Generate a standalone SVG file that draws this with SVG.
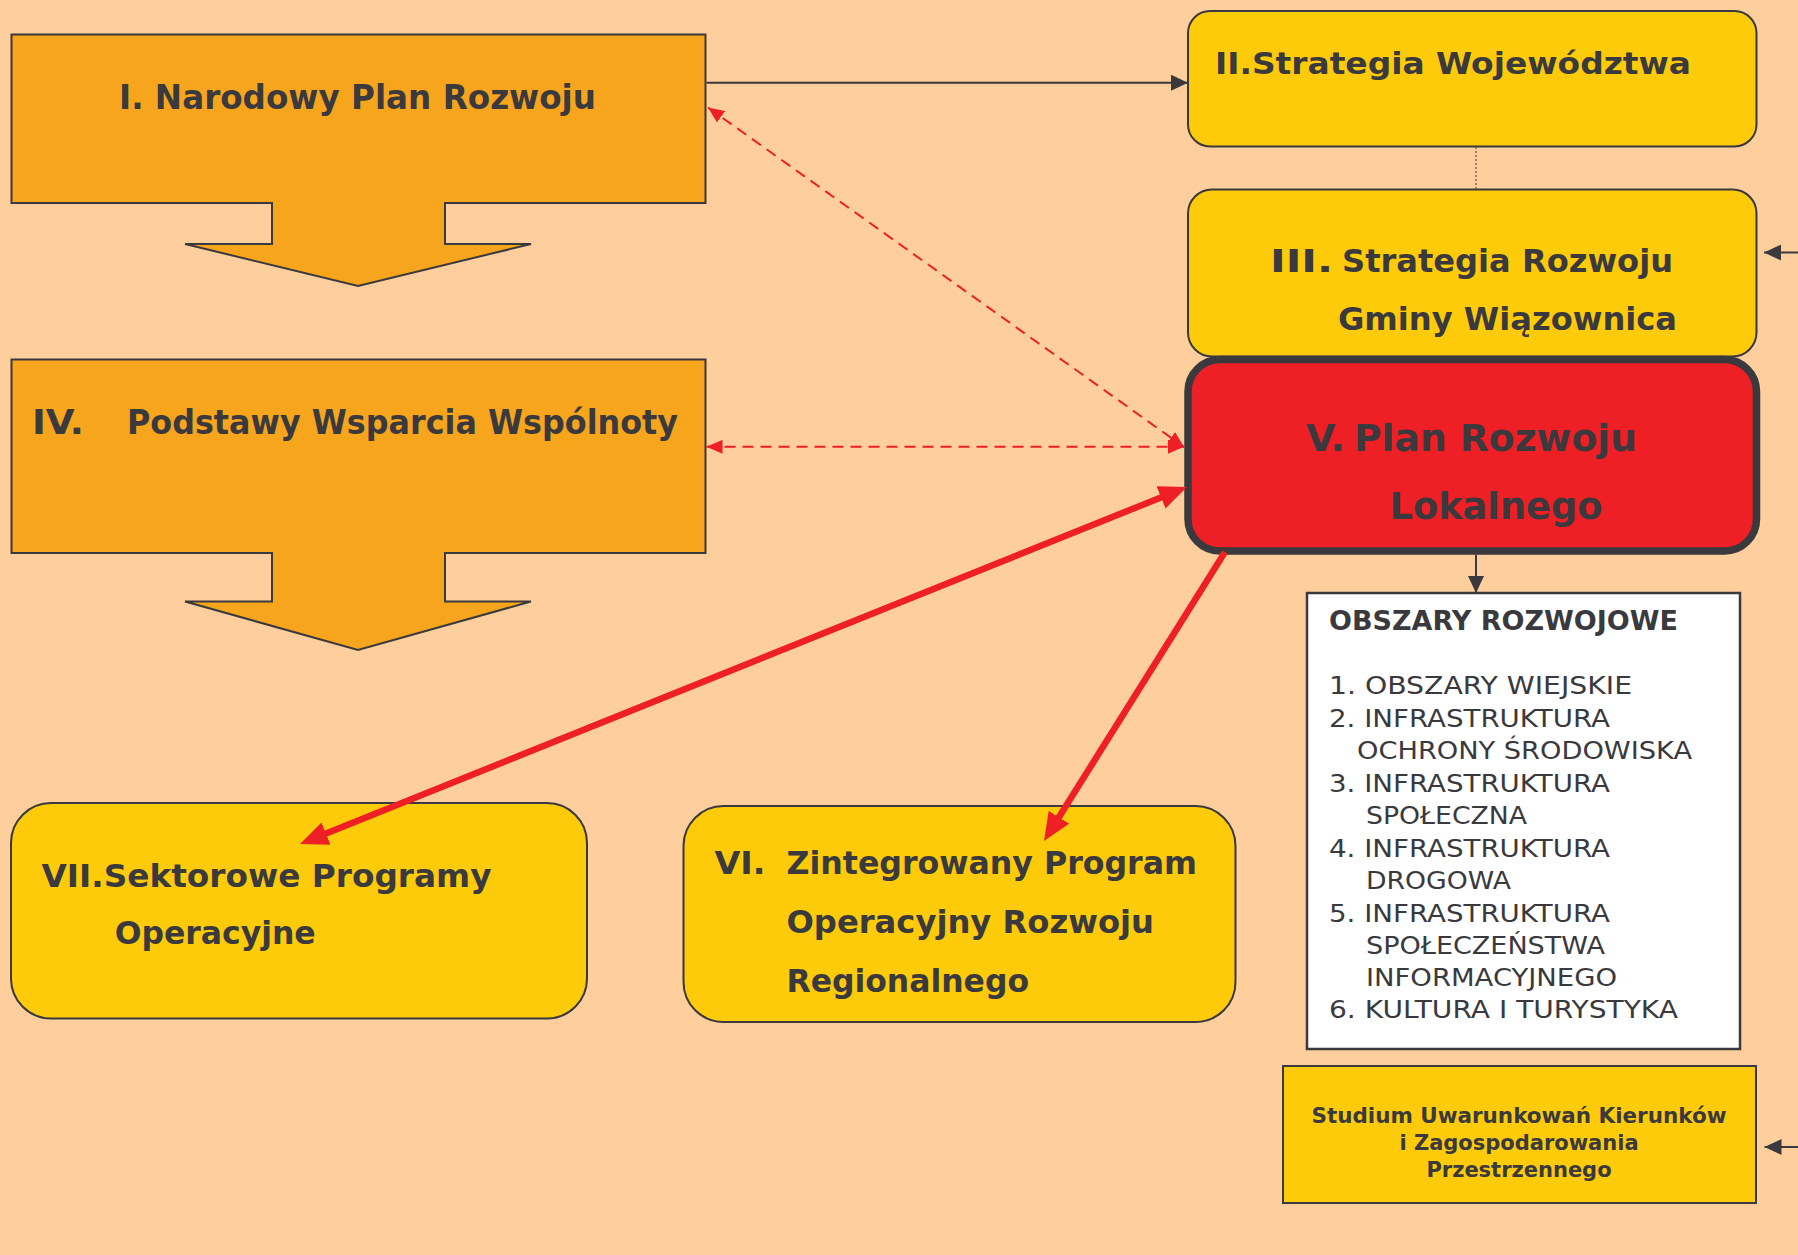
<svg xmlns="http://www.w3.org/2000/svg" width="1798" height="1255" viewBox="0 0 1798 1255">
<style>
.bg{fill:#FECF9C}
.orange{fill:#F7A51D;stroke:#3A393E;stroke-width:2}
.yellow{fill:#FDCB0A;stroke:#3A393E;stroke-width:2}
.white{fill:#FFFFFF;stroke:#3A393E;stroke-width:2.5}
.red{fill:#EE1F25;stroke:#3A393E;stroke-width:7.5}
.h{font-family:"DejaVu Sans","Liberation Sans",sans-serif;font-weight:bold;fill:#3A393E}
.t{font-family:"DejaVu Sans","Liberation Sans",sans-serif;fill:#3A393E;font-size:25px}
.dark{stroke:#3A393E;stroke-width:2;fill:none}
.dash{stroke:#EE1F25;stroke-width:2;fill:none;stroke-dasharray:11 7}
.thick{stroke:#EE1F25;stroke-width:6.5;fill:none}
.dot{stroke:#555;stroke-width:1.2;stroke-dasharray:2 2;fill:none}
</style>
<defs>
<marker id="mDark" markerUnits="userSpaceOnUse" markerWidth="17" markerHeight="16" refX="17" refY="8" orient="auto-start-reverse"><path d="M0,0 L17,8 L0,16 z" fill="#3A393E"/></marker>
<marker id="mDash" markerUnits="userSpaceOnUse" markerWidth="16" markerHeight="14" refX="16" refY="7" orient="auto-start-reverse"><path d="M0,0 L16,7 L0,14 z" fill="#EE1F25"/></marker>
<marker id="mThick" markerUnits="userSpaceOnUse" markerWidth="28" markerHeight="24" refX="18" refY="12" orient="auto-start-reverse"><path d="M0,0 L28,12 L0,24 z" fill="#EE1F25"/></marker>
</defs>
<rect class="bg" x="0" y="0" width="1798" height="1255"/>

<g id="node-I">
<path class="orange" d="M11.5,34.5 H705.5 V203 H445 V244 H531 L358,286 L185,244 H272 V203 H11.5 Z"/>
<text class="h" font-size="33" x="119" y="109" textLength="477" lengthAdjust="spacingAndGlyphs">I. Narodowy Plan Rozwoju</text>
</g>

<g id="node-IV">
<path class="orange" d="M11.5,359.5 H705.5 V553 H445 V601.5 H531 L358,650 L185,601.5 H272 V553 H11.5 Z"/>
<text class="h" font-size="33" x="32" y="434" textLength="52" lengthAdjust="spacingAndGlyphs">IV.</text>
<text class="h" font-size="33" x="127" y="434" textLength="551" lengthAdjust="spacingAndGlyphs">Podstawy Wsparcia Wspólnoty</text>
</g>

<g id="node-II">
<rect class="yellow" x="1188" y="11" width="568.5" height="135.5" rx="22" ry="22"/>
<text class="h" font-size="31" x="1215" y="74" textLength="476" lengthAdjust="spacingAndGlyphs">II.Strategia Województwa</text>
</g>

<g id="node-III">
<rect class="yellow" x="1188" y="189.5" width="568.5" height="167" rx="24" ry="24"/>
<text class="h" font-size="32" x="1270" y="271.5" textLength="63" lengthAdjust="spacingAndGlyphs">III.</text>
<text class="h" font-size="32" x="1342" y="271.5" textLength="331" lengthAdjust="spacingAndGlyphs">Strategia Rozwoju</text>
<text class="h" font-size="32" x="1338" y="330" textLength="339" lengthAdjust="spacingAndGlyphs">Gminy Wiązownica</text>
</g>

<g id="node-V">
<rect class="red" x="1188" y="359.5" width="568.5" height="191.5" rx="32" ry="32"/>
<text class="h" font-size="38" x="1306" y="451" textLength="39" lengthAdjust="spacingAndGlyphs">V.</text>
<text class="h" font-size="38" x="1354" y="451" textLength="283" lengthAdjust="spacingAndGlyphs">Plan Rozwoju</text>
<text class="h" font-size="38" x="1389.5" y="519" textLength="213" lengthAdjust="spacingAndGlyphs">Lokalnego</text>
</g>

<g id="node-obszary">
<rect class="white" x="1307" y="593" width="433" height="456"/>
<text class="h" font-size="26" x="1329" y="630" textLength="349" lengthAdjust="spacingAndGlyphs">OBSZARY ROZWOJOWE</text>
<text class="t" x="1329" y="694.3" textLength="303" lengthAdjust="spacingAndGlyphs">1. OBSZARY WIEJSKIE</text>
<text class="t" x="1329" y="727" textLength="281" lengthAdjust="spacingAndGlyphs">2. INFRASTRUKTURA</text>
<text class="t" x="1357" y="759.3" textLength="335" lengthAdjust="spacingAndGlyphs">OCHRONY ŚRODOWISKA</text>
<text class="t" x="1329" y="792" textLength="281" lengthAdjust="spacingAndGlyphs">3. INFRASTRUKTURA</text>
<text class="t" x="1366" y="824.3" textLength="161" lengthAdjust="spacingAndGlyphs">SPOŁECZNA</text>
<text class="t" x="1329" y="856.7" textLength="281" lengthAdjust="spacingAndGlyphs">4. INFRASTRUKTURA</text>
<text class="t" x="1366" y="889.3" textLength="145" lengthAdjust="spacingAndGlyphs">DROGOWA</text>
<text class="t" x="1329" y="921.7" textLength="281" lengthAdjust="spacingAndGlyphs">5. INFRASTRUKTURA</text>
<text class="t" x="1366" y="954" textLength="239" lengthAdjust="spacingAndGlyphs">SPOŁECZEŃSTWA</text>
<text class="t" x="1366" y="986" textLength="251" lengthAdjust="spacingAndGlyphs">INFORMACYJNEGO</text>
<text class="t" x="1329" y="1018.3" textLength="349" lengthAdjust="spacingAndGlyphs">6. KULTURA I TURYSTYKA</text>
</g>

<g id="node-studium">
<rect class="yellow" x="1283" y="1066" width="473" height="137" stroke-width="2.5"/>
<text class="h" font-size="21" x="1519" y="1123.3" text-anchor="middle" textLength="415" lengthAdjust="spacingAndGlyphs">Studium Uwarunkowań Kierunków</text>
<text class="h" font-size="21" x="1519" y="1150" text-anchor="middle">i Zagospodarowania</text>
<text class="h" font-size="21" x="1519" y="1176.5" text-anchor="middle">Przestrzennego</text>
</g>

<g id="node-VII">
<rect class="yellow" x="11" y="803" width="576" height="215.5" rx="40" ry="40"/>
<text class="h" font-size="32" x="41.5" y="886.7" textLength="450" lengthAdjust="spacingAndGlyphs">VII.Sektorowe Programy</text>
<text class="h" font-size="32" x="114.7" y="944" textLength="201" lengthAdjust="spacingAndGlyphs">Operacyjne</text>
</g>

<g id="node-VI">
<rect class="yellow" x="683.5" y="806" width="552" height="216" rx="40" ry="40"/>
<text class="h" font-size="32" x="714.4" y="874" textLength="51" lengthAdjust="spacingAndGlyphs">VI.</text>
<text class="h" font-size="32" x="786.5" y="874" textLength="410.5" lengthAdjust="spacingAndGlyphs">Zintegrowany Program</text>
<text class="h" font-size="32" x="786.5" y="932.7" textLength="367.5" lengthAdjust="spacingAndGlyphs">Operacyjny Rozwoju</text>
<text class="h" font-size="32" x="786.5" y="991.7" textLength="242.5" lengthAdjust="spacingAndGlyphs">Regionalnego</text>
</g>

<g id="connectors">
<line class="dark" x1="706.5" y1="82.7" x2="1188" y2="82.7" marker-end="url(#mDark)"/>
<line class="dot" x1="1476" y1="147" x2="1476" y2="189"/>
<line class="dark" x1="1798" y1="252.5" x2="1764" y2="252.5" marker-end="url(#mDark)"/>
<line class="dark" x1="1798" y1="1147" x2="1764.5" y2="1147" marker-end="url(#mDark)"/>
<line class="dark" x1="1476" y1="555" x2="1476" y2="593" marker-end="url(#mDark)"/>
<line class="dash" x1="708" y1="107.5" x2="1184" y2="447" marker-start="url(#mDash)" marker-end="url(#mDash)"/>
<line class="dash" x1="706.5" y1="446.8" x2="1184" y2="446.8" marker-start="url(#mDash)" marker-end="url(#mDash)"/>
<line class="thick" x1="1177.7" y1="490.7" x2="309.3" y2="840.3" marker-start="url(#mThick)" marker-end="url(#mThick)"/>
<line class="thick" x1="1225" y1="552" x2="1049.3" y2="832.5" marker-end="url(#mThick)"/>
</g>
</svg>
